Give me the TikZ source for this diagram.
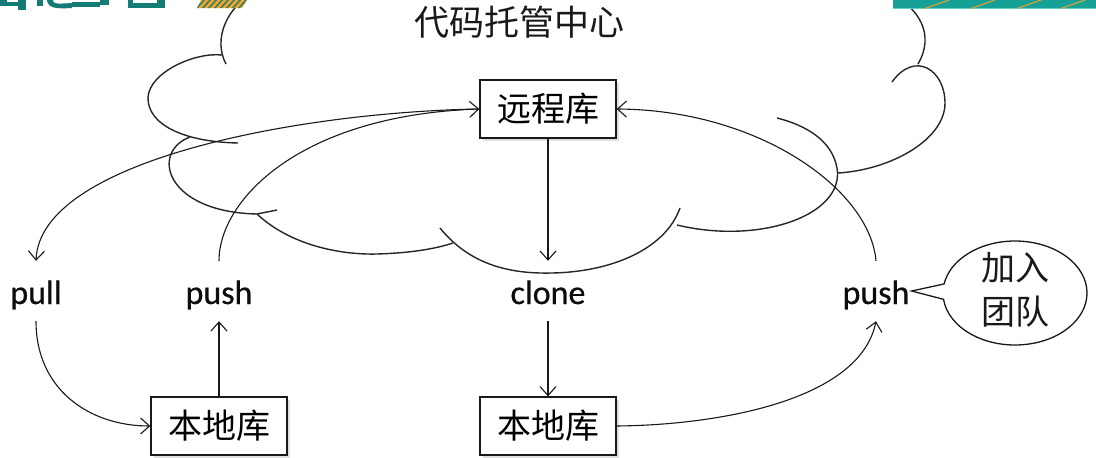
\documentclass[tikz,border=0pt]{standalone}
\usepackage{fontspec}
\setmainfont{Carlito}
\newfontfamily\cjk{Noto Sans CJK SC}
\newfontfamily\cmdfont[FakeBold=0.6]{Carlito}
\usetikzlibrary{arrows.meta,shapes.callouts,shadows}
\definecolor{tealdark}{HTML}{137D75}
\definecolor{tealbar}{HTML}{16A096}
\definecolor{teallight}{HTML}{5FD0C8}
\definecolor{stripe}{HTML}{F2A22A}
\tikzset{
  cloudline/.style={line width=1.4pt, draw=black!85},
  conn/.style={line width=1.1pt, draw=black!90, -{Straight Barb[length=9pt,width=16pt,line width=1.1pt]}},
  repo/.style={draw=black!90, line width=1.3pt, fill=white, minimum width=136pt, minimum height=58pt, inner sep=0pt,
    font=\cjk\fontsize{34}{40}\selectfont,
    drop shadow={opacity=0.25, shadow xshift=2.5pt, shadow yshift=-2.5pt}},
  cmd/.style={font=\cmdfont\fontsize{34}{40}\selectfont, text height=30pt, text depth=4pt, inner ysep=13pt, inner xsep=2pt, text=black!95},
}
\begin{document}
\begin{tikzpicture}[x=1pt,y=-1pt]
\useasboundingbox (0,0) rectangle (1096,458);
\fill[white] (0,0) rectangle (1096,458);
\begin{scope}
\clip (0,0) rectangle (1096,458);
% ---- cloud ----
\begin{scope}[cloudline]
  \draw (262,-12) .. controls (225,5) and (213,40) .. (226,64);
  \draw (222,55) .. controls (195,52) and (150,72) .. (148,97) .. controls (147,125) and (185,142) .. (238,143);
  \draw (190,137) .. controls (150,152) and (165,212) .. (257,214) -- (277,210);
  \draw (257,214) .. controls (290,245) and (340,255) .. (377,254) .. controls (410,253) and (435,249) .. (453,243);
  \draw (440,228) .. controls (470,265) and (510,274) .. (552,273) .. controls (610,272) and (665,250) .. (680,208);
  \draw (677,225) .. controls (760,245) and (845,215) .. (837,168) .. controls (832,140) and (805,125) .. (777,118);
  \draw (838,173) .. controls (890,170) and (945,140) .. (945,103) .. controls (945,70) and (915,50) .. (892,82);
  \draw (888,-8) .. controls (920,8) and (935,35) .. (918,64);
\end{scope}
% ---- header decorations ----
\fill[tealdark] (0,2) rectangle (18,6);
\fill[tealdark] (0,0) rectangle (7,6);
\fill[tealdark] (18,0) rectangle (26,10);
\fill[tealdark] (37,0) rectangle (43,6);
\fill[tealdark] (47,0) -- (53,0) .. controls (53,4) and (56,4) .. (72,3) -- (72,8) .. controls (55,9) and (48,8) .. cycle;
\fill[tealdark] (72,2) rectangle (100,7);
\fill[tealdark] (100,0) rectangle (109,5);
\fill[tealdark] (128,0) rectangle (133,8);
\fill[tealdark] (128,3) rectangle (165,8);
\fill[tealdark] (157,0) rectangle (165,8);
\begin{scope}
  \clip (201,0) -- (247,0) -- (242,8) -- (197,8) -- cycle;
  \fill[stripe] (195,0) rectangle (250,9);
  \foreach \s in {190,196,...,250} \draw[tealdark, line width=1.3pt] (\s,9) -- (\s+9,-1);
\end{scope}
\begin{scope}
  \clip (893,0) rectangle (1096,9);
  \fill[tealbar] (893,0) rectangle (1096,9);
  \fill[teallight] (893,7.8) rectangle (1096,9);
  \foreach \s in {925,971,1017,1061} \draw[stripe, line width=1pt] (\s,8.5) -- (\s+24,0);
\end{scope}
\end{scope}
% ---- title ----
\node[font=\cjk\fontsize{35}{40}\selectfont, text=black!90] (title) at (519,22) {代码托管中心};
% ---- nodes ----
\node[repo] (remote) at (548,109) {远程库};
\node[repo] (localL) at (219,426) {本地库};
\node[repo] (localR) at (548,426) {本地库};
\node[cmd] (pull) at (36,291) {pull};
\node[cmd] (pushL) at (219,291) {push};
\node[cmd] (clone) at (548,291) {clone};
\node[cmd] (pushR) at (876,291) {push};
% ---- callout ----
\node[ellipse callout, draw=black!90, line width=1.3pt, fill=white, minimum width=144pt, minimum height=104pt,
      inner sep=0pt, callout absolute pointer={(pushR.east)}, callout pointer arc=17] (team) at (1015,293) {};
\node[font=\cjk\fontsize{34}{44}\selectfont, align=center, text=black!90] (teamtxt) at (1015,290) {加入\\团队};
% ---- connectors ----
\draw[conn] (remote.west) .. controls (300,112) and (40,160) .. (pull.north);
\draw[conn] (pushL.north) .. controls (219,200) and (300,115) .. (remote.west);
\draw[conn] (remote.south) -- (clone.north);
\draw[conn] (clone.south) -- (localR.north);
\draw[conn] (localR.east) .. controls (720,425) and (860,400) .. (pushR.south);
\draw[conn] (pushR.north) .. controls (870,190) and (760,110) .. (remote.east);
\draw[conn] (pull.south) .. controls (36,390) and (90,426) .. (localL.west);
\draw[conn] (localL.north) -- (pushL.south);
\end{tikzpicture}
\end{document}
